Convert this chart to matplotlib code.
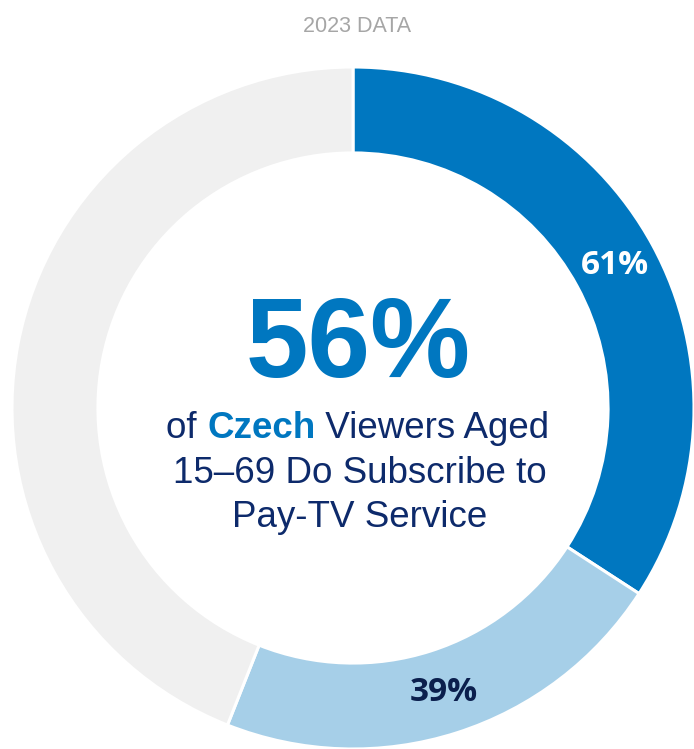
import matplotlib.pyplot as plt
import numpy as np

# data
year_label = '2023 DATA'
total_pct = 56                  # share of viewers who subscribe
split_pct = [61, 39]            # split inside the subscriber share
split_labels = ['61%', '39%']
colors = ['#0077c0', '#a6cfe8', '#f0f0f0']
label_colors = ['white', '#0b1f4d']

W, H = 694, 749
fig = plt.figure(figsize=(W / 100, H / 100), dpi=100)
ax = fig.add_axes([0, 0, 1, 1])

def py(y):
    # pixel row (from top) -> data y
    return H - y

cx, cy, R = 353, py(408), 341
sizes = [total_pct * s / 100 for s in split_pct] + [100 - total_pct]

wedges, _ = ax.pie(sizes, colors=colors, startangle=90, counterclock=False,
                   center=(cx, cy), radius=R, frame=True,
                   wedgeprops=dict(width=R * 0.252, edgecolor='white', linewidth=2.2))
ax.set_xlim(0, W)
ax.set_ylim(0, H)
ax.axis('off')

# segment labels at the middle of each wedge
for w, lab, c in zip(wedges[:2], split_labels, label_colors):
    mid = np.deg2rad((w.theta1 + w.theta2) / 2)
    x = cx + 0.875 * R * np.cos(mid)
    y = cy + 0.875 * R * np.sin(mid)
    ax.text(x, y, lab, ha='center', va='center', color=c, fontsize=24,
            fontweight='bold', family='Open Sans')

ax.text(357, py(26), year_label, ha='center', va='center', color='#a6a6a6',
        fontsize=15.5, family='Liberation Sans')

ax.text(358, py(377), f'{total_pct}%', ha='center', va='baseline', color='#0077c0',
        fontsize=81, fontweight='bold', family='Liberation Sans')

navy = '#0d2a6b'
fs = 26.5
ax.text(360, py(483), '15\u201369 Do Subscribe to', ha='center', va='baseline',
        color=navy, fontsize=fs, family='Liberation Sans')
ax.text(360, py(527), 'Pay-TV Service', ha='center', va='baseline',
        color=navy, fontsize=fs, family='Liberation Sans')

# first line has a bold coloured word in the middle
parts = [('of ', navy, 'normal'), ('Czech', '#0077c0', 'bold'), (' Viewers Aged', navy, 'normal')]
fig.canvas.draw()
r = fig.canvas.get_renderer()
texts = []
for s, c, wt in parts:
    t = ax.text(0, py(438), s, ha='left', va='baseline', color=c, fontsize=fs,
                fontweight=wt, family='Liberation Sans')
    texts.append(t)
widths = [t.get_window_extent(r).width for t in texts]
x0 = 358 - sum(widths) / 2
for t, wd in zip(texts, widths):
    t.set_x(x0)
    x0 += wd

fig.savefig('out.png', dpi=100)
